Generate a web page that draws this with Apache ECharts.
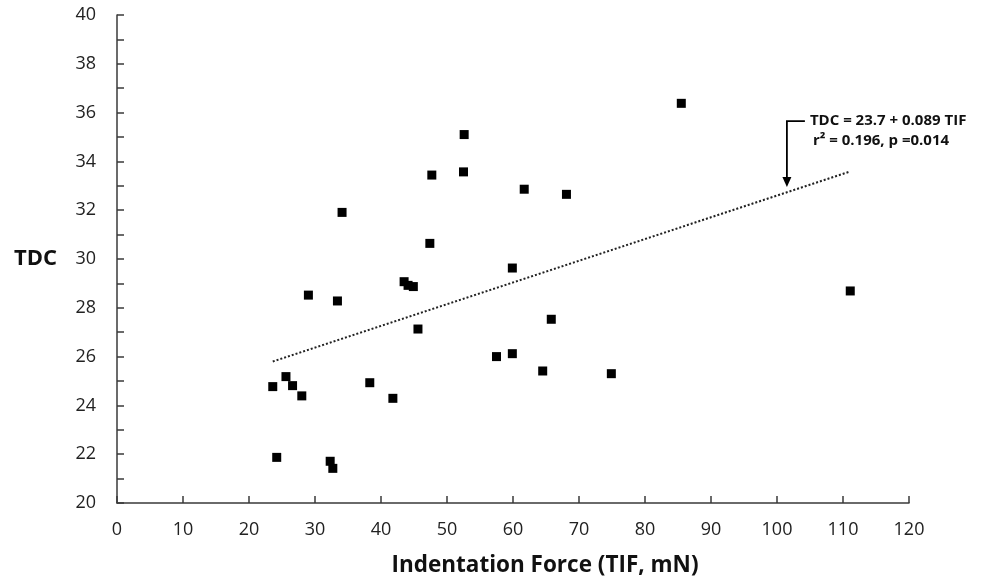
<!DOCTYPE html>
<html><head><meta charset="utf-8">
<script src="https://cdn.jsdelivr.net/npm/echarts@6/dist/echarts.min.js"></script>
<style>html,body{margin:0;padding:0;background:#fff}#c{width:984px;height:582px}</style>
</head><body><div id="c"></div>
<script>
// Data
const tifValues = [85.5, 52.6, 47.7, 52.5, 61.7, 68.1, 34.1, 47.4, 59.9, 43.5, 44.1, 44.9,
  29.0, 33.4, 45.6, 65.8, 57.5, 59.9, 25.6, 23.6, 26.6, 28.0, 38.3, 41.8, 64.5, 74.9,
  24.2, 32.3, 32.7, 111.1];
const tdcValues = [36.38, 35.1, 33.44, 33.57, 32.86, 32.65, 31.91, 30.64, 29.63, 29.07, 28.92, 28.87,
  28.52, 28.28, 27.13, 27.53, 26.0, 26.12, 25.18, 24.77, 24.81, 24.39, 24.93, 24.29, 25.41, 25.3,
  21.87, 21.71, 21.42, 28.69];
const fitIntercept = 23.7;
const fitSlope = 0.089;
const xTicks = [0, 120, 10];
const yTicks = [20, 40, 2];
const eqLine1 = 'TDC = 23.7 + 0.089 TIF';
const eqLine2 = 'r\u00b2 = 0.196, p =0.014';
const arrowX = 101.5, arrowTopY = 35.65, arrowTipY = 32.95;

const points = tifValues.map((x, i) => [x, tdcValues[i]]);
const xMin = Math.min(...tifValues), xMax = Math.max(...tifValues);
const fitLine = [[xMin, fitIntercept + fitSlope * xMin], [xMax, fitIntercept + fitSlope * xMax]];

const axisColor = '#3a3a3a';
const font = '"Open Sans", "Noto Sans", sans-serif';
const chart = echarts.init(document.getElementById('c'));
chart.setOption({
  animation: false,
  grid: { left: 117, right: 75, top: 15, bottom: 79 },
  xAxis: {
    type: 'value', min: xTicks[0], max: xTicks[1], interval: xTicks[2],
    name: 'Indentation Force (TIF, mN)', nameLocation: 'middle', nameGap: 51,
    nameTextStyle: { fontFamily: font, fontWeight: 'bold', fontSize: 22.5, color: '#111', padding: [0, 0, 0, 64] },
    axisLine: { lineStyle: { color: axisColor, width: 1.5 } },
    axisTick: { inside: true, length: 7, lineStyle: { color: axisColor, width: 1.5 } },
    axisLabel: { fontFamily: font, fontSize: 18, color: '#222', margin: 18 },
    splitLine: { show: false }
  },
  yAxis: {
    type: 'value', min: yTicks[0], max: yTicks[1], interval: yTicks[2],
    name: 'TDC', nameLocation: 'middle', nameGap: 60, nameRotate: 0,
    nameTextStyle: { fontFamily: font, fontWeight: 'bold', fontSize: 22, color: '#111' },
    axisLine: { lineStyle: { color: axisColor, width: 1.5 } },
    axisTick: { inside: true, length: 7, lineStyle: { color: axisColor, width: 1.5 } },
    minorTick: { show: true, splitNumber: 2, length: 7, lineStyle: { color: axisColor, width: 1.5 } },
    axisLabel: { fontFamily: font, fontSize: 18, color: '#222', margin: 21 },
    splitLine: { show: false }
  },
  series: [
    {
      type: 'line', data: fitLine, showSymbol: false, symbol: 'none', z: 1,
      lineStyle: { color: '#222', width: 2, type: [2, 2] }
    },
    {
      type: 'scatter', data: points, symbol: 'rect', symbolSize: 9, z: 3,
      itemStyle: { color: '#000', opacity: 1 }
    }
  ]
});

const arrowTop = chart.convertToPixel({ gridIndex: 0 }, [arrowX, arrowTopY]);
const arrowTip = chart.convertToPixel({ gridIndex: 0 }, [arrowX, arrowTipY]);
chart.setOption({
  graphic: [
    { type: 'polyline', shape: { points: [[arrowTop[0] + 18, arrowTop[1]], [arrowTop[0], arrowTop[1]], [arrowTip[0], arrowTip[1] - 8]] },
      style: { stroke: '#000', lineWidth: 1.8, fill: null } },
    { type: 'polygon', shape: { points: [[arrowTip[0] - 4.5, arrowTip[1] - 10], [arrowTip[0] + 4.5, arrowTip[1] - 10], [arrowTip[0], arrowTip[1]]] },
      style: { fill: '#000' } },
    { type: 'text', x: arrowTop[0] + 23, y: arrowTop[1],
      style: { text: eqLine1, fontFamily: font, fontWeight: 'bold', fontSize: 15, fill: '#111', verticalAlign: 'middle' } },
    { type: 'text', x: arrowTop[0] + 26, y: arrowTop[1] + 20,
      style: { text: eqLine2, fontFamily: font, fontWeight: 'bold', fontSize: 15, fill: '#111', verticalAlign: 'middle' } }
  ]
});
</script></body></html>
